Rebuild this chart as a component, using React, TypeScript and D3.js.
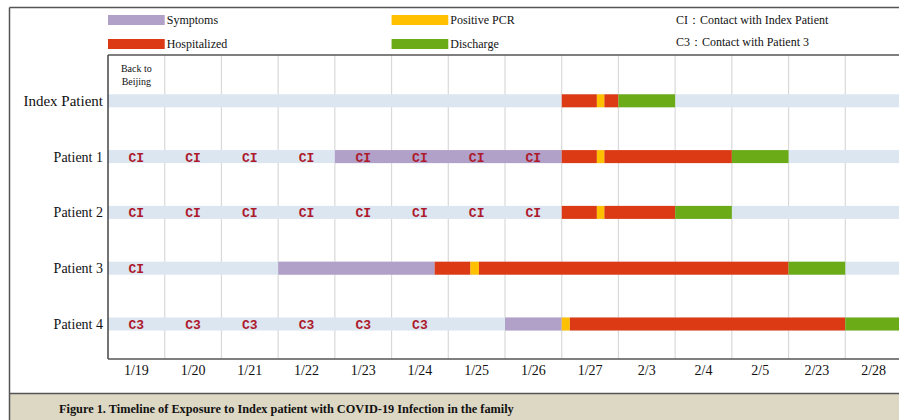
import React from "react";
import * as d3 from "d3";

const patients = ["Index Patient", "Patient 1", "Patient 2", "Patient 3", "Patient 4"];
const dates = ["1/19", "1/20", "1/21", "1/22", "1/23", "1/24", "1/25", "1/26", "1/27", "2/3", "2/4", "2/5", "2/23", "2/28"];

// [patient, start column, end column]
const symptomSpans: [string, number, number][] = [
  ["Patient 1", 4, 8],
  ["Patient 3", 3, 5.76],
  ["Patient 4", 7, 8],
];
const hospitalSpans: [string, number, number][] = [
  ["Index Patient", 8, 8.62],
  ["Index Patient", 8.75, 9],
  ["Patient 1", 8, 8.62],
  ["Patient 1", 8.75, 11],
  ["Patient 2", 8, 8.62],
  ["Patient 2", 8.75, 10],
  ["Patient 3", 5.76, 6.39],
  ["Patient 3", 6.54, 12],
  ["Patient 4", 8.14, 13],
];
const pcrSpans: [string, number, number][] = [
  ["Index Patient", 8.62, 8.75],
  ["Patient 1", 8.62, 8.75],
  ["Patient 2", 8.62, 8.75],
  ["Patient 3", 6.39, 6.54],
  ["Patient 4", 8, 8.14],
];
const dischargeSpans: [string, number, number][] = [
  ["Index Patient", 9, 10],
  ["Patient 1", 11, 12],
  ["Patient 2", 10, 11],
  ["Patient 3", 12, 13],
  ["Patient 4", 13, 14],
];
// [patient, column, label]
const contactLabels: [string, number, string][] = [
  ...[0, 1, 2, 3, 4, 5, 6, 7].map((c) => ["Patient 1", c, "CI"] as [string, number, string]),
  ...[0, 1, 2, 3, 4, 5, 6, 7].map((c) => ["Patient 2", c, "CI"] as [string, number, string]),
  ["Patient 3", 0, "CI"],
  ...[0, 1, 2, 3, 4, 5].map((c) => ["Patient 4", c, "C3"] as [string, number, string]),
];

const legendItems = [
  { label: "Symptoms", color: "#b1a0c7", col: 0, row: 0 },
  { label: "Hospitalized", color: "#dc3a15", col: 0, row: 1 },
  { label: "Positive PCR", color: "#ffc000", col: 5, row: 0 },
  { label: "Discharge", color: "#6aab17", col: 5, row: 1 },
];
const legendNotes = ["CI：Contact with Index Patient", "C3：Contact with Patient 3"];
const caption = "Figure 1. Timeline of Exposure to Index patient with COVID-19 Infection in the family";

const W = 899;
const H = 420;
const plotLeft = 108;
const plotTop = 55;
const plotBottom = 359;
const serif = "'Liberation Serif', 'Times New Roman', serif";

export default function App() {
  const x = d3.scaleLinear().domain([0, dates.length]).range([plotLeft, 902]);
  const y = d3.scalePoint<string>().domain(patients).range([100.8, 324]);
  const barH = 13;
  const colW = x(1) - x(0);

  const spanRects = (spans: [string, number, number][], color: string, key: string) =>
    spans.map(([p, s, e], i) => (
      <rect key={key + i} x={x(s)} y={(y(p) as number) - barH / 2} width={x(e) - x(s)} height={barH} fill={color} />
    ));

  return (
    <svg width={W} height={H} style={{ position: "absolute", left: 0, top: 0, background: "#fff" }}>
      <rect x={0} y={0} width={W} height={H} fill="#fff" />
      {/* caption band */}
      <rect x={9.5} y={393.5} width={W} height={H - 393.5} fill="#ddd8c4" />
      <line x1={9.5} x2={W} y1={393.5} y2={393.5} stroke="#555" strokeWidth={1.5} />
      {/* outer frame */}
      <line x1={9.5} x2={W} y1={7.5} y2={7.5} stroke="#555" strokeWidth={1.5} />
      <line x1={9.5} x2={9.5} y1={7.5} y2={H} stroke="#555" strokeWidth={1.5} />

      {/* legend */}
      {legendItems.map((d) => (
        <g key={d.label}>
          <rect x={x(d.col)} y={15 + d.row * 24} width={colW} height={10} fill={d.color} />
          <text x={x(d.col + 1) + 2} y={24 + d.row * 24} fontFamily={serif} fontSize={12} fill="#111">
            {d.label}
          </text>
        </g>
      ))}
      {legendNotes.map((t, i) => (
        <text key={t} x={676} y={24 + i * 22} fontFamily={serif} fontSize={12} fill="#111">
          {t}
        </text>
      ))}

      {/* grid */}
      {d3.range(1, dates.length + 1).map((i) => (
        <line key={"g" + i} x1={x(i)} x2={x(i)} y1={plotTop} y2={plotBottom} stroke="#d9d9d9" strokeWidth={1.2} />
      ))}

      {/* background rows */}
      {patients.map((p) => (
        <rect key={"bg" + p} x={x(0)} y={(y(p) as number) - barH / 2} width={x(dates.length) - x(0)} height={barH} fill="#dce6f1" />
      ))}

      {spanRects(symptomSpans, "#b1a0c7", "s")}
      {spanRects(hospitalSpans, "#dc3a15", "h")}
      {spanRects(pcrSpans, "#ffc000", "p")}
      {spanRects(dischargeSpans, "#6aab17", "d")}

      {contactLabels.map(([p, c, t], i) => (
        <text
          key={"c" + i}
          x={x(c + 0.5)}
          y={(y(p) as number) + 5}
          textAnchor="middle"
          fontFamily="'Liberation Mono', 'Courier New', monospace"
          fontWeight="bold"
          fontSize={13}
          fill="#ad1a2c"
        >
          {t}
        </text>
      ))}

      {/* plot frame */}
      <line x1={plotLeft} x2={W} y1={plotTop} y2={plotTop} stroke="#555" strokeWidth={1.5} />
      <line x1={plotLeft} x2={plotLeft} y1={plotTop} y2={plotBottom} stroke="#444" strokeWidth={1.5} />
      <line x1={plotLeft} x2={W} y1={plotBottom} y2={plotBottom} stroke="#555" strokeWidth={1.5} />

      {/* Back to Beijing */}
      <text x={x(0.5)} y={72} textAnchor="middle" fontFamily={serif} fontSize={10} fill="#111">Back to</text>
      <text x={x(0.5)} y={85} textAnchor="middle" fontFamily={serif} fontSize={10} fill="#111">Beijing</text>

      {/* row labels */}
      {patients.map((p, i) => (
        <text
          key={"l" + p}
          x={103}
          y={(y(p) as number) + 5}
          textAnchor="end"
          fontFamily={serif}
          fontSize={i === 0 ? 15 : 14}
          fill="#111"
        >
          {p}
        </text>
      ))}

      {/* x tick labels */}
      {dates.map((d, i) => (
        <text key={"t" + d} x={x(i + 0.5)} y={375} textAnchor="middle" fontFamily={serif} fontSize={14} fill="#111">
          {d}
        </text>
      ))}

      <text x={59} y={413} fontFamily={serif} fontSize={12.3} fontWeight="bold" fill="#111">
        {caption}
      </text>
    </svg>
  );
}
